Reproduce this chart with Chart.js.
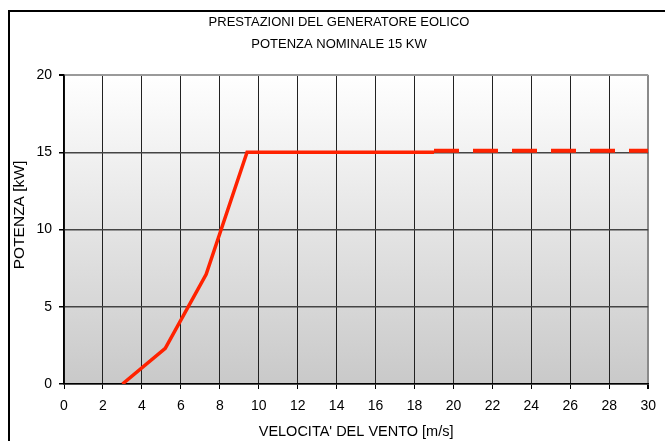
<!DOCTYPE html>
<html>
<head>
<meta charset="utf-8">
<script src="https://cdn.jsdelivr.net/npm/chart.js@4/dist/chart.umd.min.js"></script>
<style>
  html, body { margin: 0; padding: 0; background: #fff; }
  #wrap { width: 665px; height: 441px; position: relative; }
</style>
</head>
<body>
<div id="wrap"><canvas id="windChart"></canvas></div>
<script>
// wind speed (m/s) vs power (kW)
const windSpeed = [3, 5.2, 7.3, 9.4, 19];
const power = [0, 2.3, 7.1, 15, 15];
// dashed extension at rated power
const extSpeed = [19, 30];
const extPower = [15.1, 15.1];

const titleLines = ['PRESTAZIONI DEL GENERATORE EOLICO', 'POTENZA NOMINALE 15 KW'];
const yTitle = 'POTENZA [kW]';
const xTitle = "VELOCITA' DEL VENTO [m/s]";
const FONT = '"Liberation Sans", Arial, sans-serif';

const toPoints = (xs, ys) => xs.map((x, i) => ({ x: x, y: ys[i] }));

// frame, plot gradient and texts
const decor = {
  id: 'decor',
  beforeDraw(chart) {
    const { ctx, chartArea: a } = chart;
    ctx.save();
    ctx.strokeStyle = '#000';
    ctx.lineWidth = 2;
    ctx.strokeRect(9, 11, 700, 500);
    const g = ctx.createLinearGradient(0, a.top, 0, a.bottom);
    g.addColorStop(0, '#ffffff');
    g.addColorStop(1, '#c9c9c9');
    ctx.fillStyle = g;
    ctx.fillRect(a.left, a.top, a.right - a.left, a.bottom - a.top);
    ctx.restore();
  },
  afterDraw(chart) {
    const { ctx } = chart;
    ctx.save();
    ctx.fillStyle = '#000';
    ctx.textAlign = 'center';
    ctx.textBaseline = 'middle';
    ctx.font = '13px ' + FONT;
    ctx.fillText(titleLines[0], 339, 22);
    ctx.fillText(titleLines[1], 339, 44);
    ctx.font = '15.5px ' + FONT;
    ctx.translate(20, 215);
    ctx.rotate(-Math.PI / 2);
    ctx.fillText(yTitle, 0, 0);
    ctx.restore();
  }
};

const windChart = new Chart(
  document.getElementById('windChart').getContext('2d'),
  {
    type: 'line',
    data: {
      datasets: [
        {
          data: toPoints(windSpeed, power),
          borderColor: '#ff2200',
          borderWidth: 3.5,
          pointRadius: 0,
          tension: 0
        },
        {
          data: toPoints(extSpeed, extPower),
          borderColor: '#ff2200',
          borderWidth: 4,
          borderDash: [25, 14],
          pointRadius: 0,
          tension: 0
        }
      ]
    },
    options: {
      responsive: true,
      maintainAspectRatio: false,
      animation: false,
      layout: { padding: { top: 75, right: 16, left: 0, bottom: 0 } },
      plugins: {
        legend: { display: false },
        tooltip: { enabled: false }
      },
      scales: {
        x: {
          type: 'linear',
          min: 0,
          max: 30,
          afterFit: (scale) => { scale.height = 57; },
          ticks: {
            stepSize: 2,
            padding: 9,
            color: '#000',
            font: { family: FONT, size: 14 },
            maxRotation: 0
          },
          grid: {
            color: (c) => c.tick && c.tick.value === 30 ? '#8a8a8a' : '#222',
            lineWidth: (c) => c.tick && c.tick.value === 30 ? 2 : 1,
            tickColor: '#000',
            tickLength: 5
          },
          border: { color: '#000', width: 1.5 },
          title: {
            display: true,
            text: xTitle,
            color: '#000',
            font: { family: FONT, size: 14.5 },
            padding: { top: 0, bottom: 0 }
          }
        },
        y: {
          min: 0,
          max: 20,
          afterFit: (scale) => { scale.width = 64; },
          ticks: {
            stepSize: 5,
            padding: 7,
            color: '#000',
            font: { family: FONT, size: 14 }
          },
          grid: {
            color: (c) => c.tick && c.tick.value === 20 ? '#9a9a9a' : '#444',
            lineWidth: (c) => c.tick && c.tick.value === 20 ? 2 : 1.5,
            tickColor: '#000',
            tickLength: 5
          },
          border: { color: '#000', width: 1.5 }
        }
      }
    },
    plugins: [decor]
  }
);
</script>
</body>
</html>
